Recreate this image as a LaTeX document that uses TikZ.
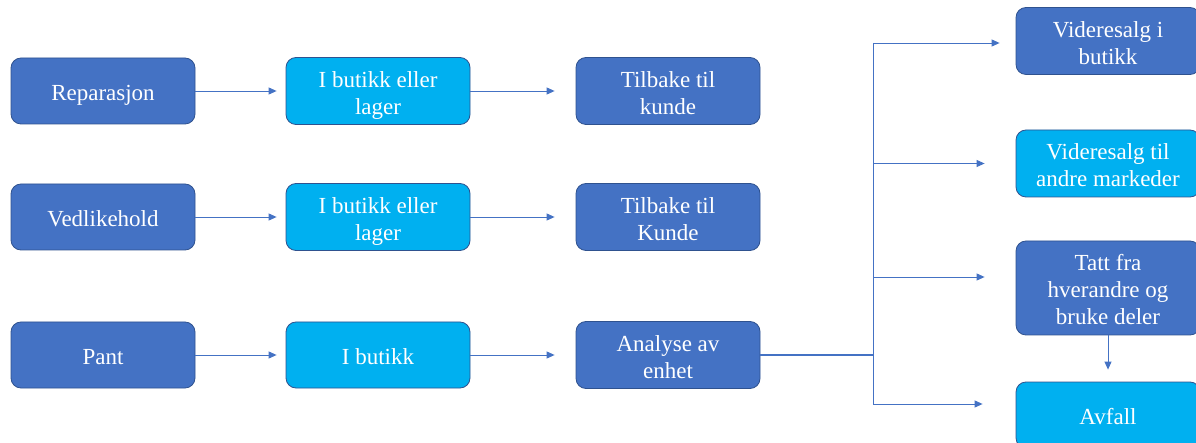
\documentclass[tikz,border=0pt]{standalone}
\usepackage{fontspec}
\setmainfont{Liberation Serif}
\newfontfamily\tnr{Liberation Serif}
\usetikzlibrary{arrows.meta}
\definecolor{dblue}{HTML}{4472C4}
\definecolor{lblue}{HTML}{00B0F0}
\definecolor{bord}{HTML}{2F528F}
\newcommand\bt[1]{\raisebox{0pt}[\dimexpr\height+9pt\relax][\depth]{\begin{tabular}{@{}c@{}}#1\end{tabular}}}
\tikzset{
  box/.style={rectangle, rounded corners=10pt, draw=bord, line width=0.8pt,
    minimum width=184pt, minimum height=66pt, align=center, text=white, inner sep=2pt,
    font=\tnr\fontsize{23}{27}\selectfont},
  dbox/.style={box, fill=dblue},
  lbox/.style={box, fill=lblue},
  arr/.style={draw=dblue, line width=0.9pt, -{Triangle[length=8pt,width=7pt]}},
  ln/.style={draw=dblue, line width=0.9pt}
}
\begin{document}
\begin{tikzpicture}[x=1pt,y=-1pt]
\useasboundingbox (0,0) rectangle (1196,443);
% column 1
\node[dbox] (a1) at (103,91) {\bt{Reparasjon}};
\node[dbox] (a2) at (103,217) {\bt{Vedlikehold}};
\node[dbox] (a3) at (103,355) {\bt{Pant}};
% column 2
\node[lbox] (b1) at (378,91) {\bt{I butikk eller\\lager}};
\node[lbox] (b2) at (378,217) {\bt{I butikk eller\\lager}};
\node[lbox] (b3) at (378,355) {\bt{I butikk}};
% column 3
\node[dbox] (c1) at (668,91) {\bt{Tilbake til\\kunde}};
\node[dbox] (c2) at (668,217) {\bt{Tilbake til\\Kunde}};
\node[dbox] (c3) at (668,355) {\bt{Analyse av\\enhet}};
% column 4
\node[dbox] (d1) at (1108,41) {\bt{Videresalg i\\butikk}};
\node[lbox, minimum height=65pt] (d2) at (1108,163.5) {\bt{Videresalg til\\andre markeder}};
\node[dbox, minimum height=92pt] (d3) at (1108,288) {\bt{Tatt fra\\hverandre og\\bruke deler}};
\node[lbox] (d4) at (1108,415) {\bt{Avfall}};
% arrows rows
\foreach \i in {1,2,3}{
  \draw[arr, shorten >=9pt] (a\i.east) -- (b\i.west);
  \draw[arr, shorten >=21pt] (b\i.east) -- (c\i.west);
}
% branch
\coordinate (j) at (873,355);
\coordinate (jt) at (873,43);
\coordinate (j2) at (873,163.5);
\coordinate (j3) at (873,277);
\coordinate (jb) at (873,404);
\draw[draw=dblue, line width=1.6pt] (c3.east) -- (j);
\draw[ln] (jt) -- (jb);
\draw[arr, shorten >=16pt] (jt) -- (jt -| d1.west);
\draw[arr, shorten >=31pt] (j2) -- (j2 -| d2.west);
\draw[arr, shorten >=31pt] (j3) -- (j3 -| d3.west);
\draw[arr, shorten >=33pt] (jb) -- (jb -| d4.west);
\draw[arr, shorten >=12pt] (d3.south) -- (d4.north);
\end{tikzpicture}
\end{document}
